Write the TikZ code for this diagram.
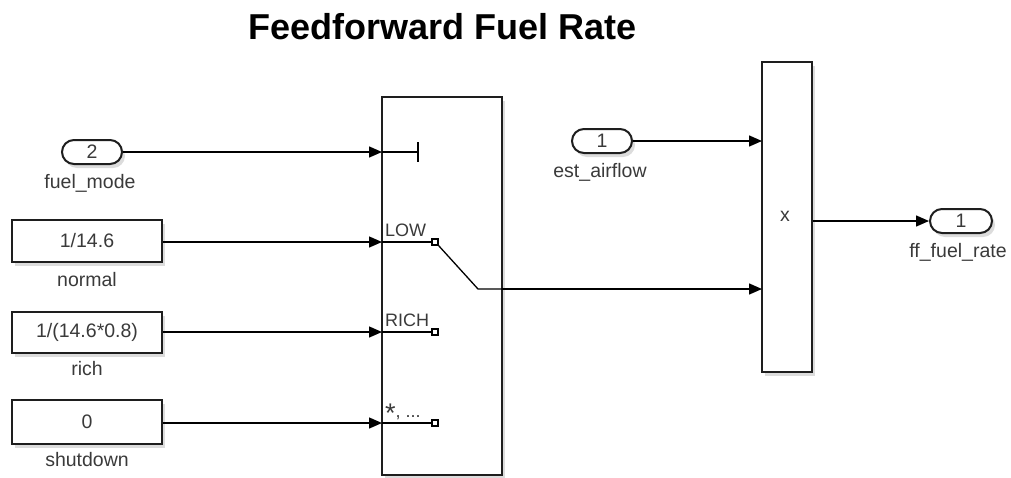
\documentclass[tikz,border=0pt]{standalone}
\usepackage{fontspec}
\setmainfont{Liberation Sans}
\usetikzlibrary{arrows.meta,shadows}
\definecolor{txt}{HTML}{3A3A3A}
\definecolor{edge}{HTML}{1E1E1E}
\tikzset{
  blk/.style={draw=edge,line width=2pt,fill=white,drop shadow={opacity=0.28,shadow xshift=3pt,shadow yshift=-4pt}},
  pill/.style={blk,rounded corners=12pt,minimum width=60pt,minimum height=24pt,inner sep=0pt,font=\fontsize{19.5}{20}\selectfont,text=txt},
  lbl/.style={anchor=base,font=\fontsize{19.5}{20}\selectfont,text=txt,inner sep=0pt},
  wire/.style={draw=black,line width=1.4pt},
  sig/.style={wire,-{Triangle[length=13pt,width=11pt]}},
  inner/.style={draw=black,line width=1.3pt},
  port/.style={draw=black,line width=1.2pt,fill=white,minimum size=6pt,inner sep=0pt}
}
\begin{document}
\begin{tikzpicture}[x=1pt,y=-1pt]
\useasboundingbox (0,0) rectangle (1011,477);
% title
\node[anchor=base,font=\bfseries\fontsize{36}{40}\selectfont,inner sep=0pt] (title) at (442.5,39) {Feedforward Fuel Rate};
% fuel_mode inport
\node[pill] (fm) at (92,152) {2};
\node[lbl] (fml) at (90,188) {fuel\_mode};
% constants
\node[blk,minimum width=150pt,minimum height=42pt,inner sep=0pt,font=\fontsize{19.5}{20}\selectfont,text=txt] (normal) at (87,241) {1/14.6};
\node[lbl] (normall) at (87,286) {normal};
\node[blk,minimum width=150pt,minimum height=41pt,inner sep=0pt,font=\fontsize{19.5}{20}\selectfont,text=txt] (rich) at (87,332.5) {1/(14.6*0.8)};
\node[lbl] (richl) at (87,375) {rich};
\node[blk,minimum width=150pt,minimum height=44pt,inner sep=0pt,font=\fontsize{19.5}{20}\selectfont,text=txt] (shut) at (87,422) {0};
\node[lbl] (shutl) at (87,466) {shutdown};
% switch block
\node[blk,minimum width=120pt,minimum height=378pt,inner sep=0pt] (sw) at (442,286) {};
\coordinate (swc) at (382,152);
\coordinate (swl) at (382,242);
\coordinate (swr) at (382,332);
\coordinate (swd) at (382,423);
\coordinate (swo) at (502,289);
% switch internals
\coordinate (tee) at (418,152);
\draw[inner] (swc) -- (tee);
\draw[inner] (418,142) -- (418,162);
\node[port] (pl) at (435,242) {};
\node[port] (pr) at (435,332) {};
\node[port] (pd) at (435,423) {};
\draw[inner] (swl) -- (pl.west);
\draw[inner] (swr) -- (pr.west);
\draw[inner] (swd) -- (pd.west);
\coordinate (knee) at (478,289);
\draw[inner] (pl.south east) -- (knee) -- (swo);
\node[anchor=base west,font=\fontsize{18}{20}\selectfont,text=txt,inner sep=0pt] (lowt) at (385,236) {LOW};
\node[anchor=base west,font=\fontsize{18}{20}\selectfont,text=txt,inner sep=0pt] (richt) at (385,326) {RICH};
\node[anchor=base west,font=\fontsize{18}{20}\selectfont,text=txt,inner sep=0pt] (deft) at (385,417) {\raisebox{-5pt}{\fontsize{27}{20}\selectfont *}, ...};
% est_airflow
\node[pill] (ea) at (602,141) {1};
\node[lbl] (eal) at (600,177) {est\_airflow};
% product
\node[blk,minimum width=50pt,minimum height=310pt,inner sep=0pt] (prod) at (787,217) {};
\node[font=\fontsize{19.5}{20}\selectfont,text=txt,inner sep=0pt] (px) at (785,216) {x};
\coordinate (p1) at (762,141);
\coordinate (p2) at (762,289);
% outport
\node[pill,minimum width=62pt] (ff) at (961,221) {1};
\node[lbl] (ffl) at (958,257) {ff\_fuel\_rate};
% connectors
\draw[sig] (fm.east) -- (swc);
\draw[sig] (normal.east |- swl) -- (swl);
\draw[sig] (rich.east |- swr) -- (swr);
\draw[sig] (shut.east |- swd) -- (swd);
\draw[sig] (ea.east) -- (p1);
\draw[sig] (swo) -- (p2);
\draw[sig] (prod.east |- ff) -- (ff.west);
\end{tikzpicture}
\end{document}
